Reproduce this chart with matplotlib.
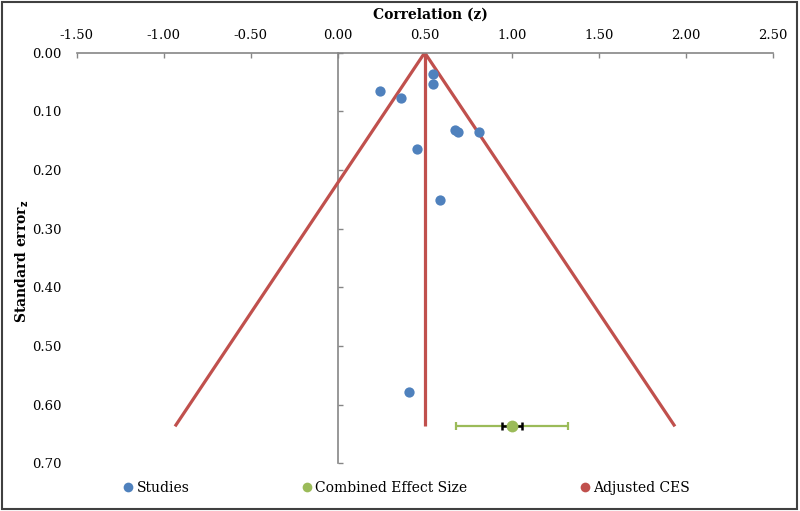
import matplotlib
matplotlib.use("Agg")
import matplotlib.pyplot as plt
from matplotlib.lines import Line2D
from matplotlib.patches import Rectangle

plt.rcParams['font.family'] = ['DejaVu Serif']
plt.rcParams['axes.unicode_minus'] = False

# ---- data ----
study_z = [0.549, 0.549, 0.243, 0.364, 0.674, 0.693, 0.812, 0.458, 0.590, 0.412]
study_se = [0.037, 0.054, 0.065, 0.078, 0.132, 0.135, 0.136, 0.165, 0.251, 0.579]

adjusted_ces = 0.50
funnel_se_max = 0.637
funnel_left = -0.935
funnel_right = 1.938

ces_z = 1.00
ces_se = 0.636
ces_ci_low, ces_ci_high = 0.68, 1.325
ces_inner_low, ces_inner_high = 0.943, 1.061

x_ticks = [-1.5, -1.0, -0.5, 0.0, 0.5, 1.0, 1.5, 2.0, 2.5]
y_ticks = [0.0, 0.1, 0.2, 0.3, 0.4, 0.5, 0.6, 0.7]

blue = '#4F81BD'
green = '#9BBB59'
red = '#C0504D'
axis_gray = '#868686'

fig = plt.figure(figsize=(8.0, 5.11), dpi=100)
ax = fig.add_axes([0.0959, 0.0933, 0.87, 0.8036])

# funnel
ax.plot([funnel_left, adjusted_ces, funnel_right], [funnel_se_max, 0, funnel_se_max],
        color=red, lw=2.3, solid_capstyle='butt', zorder=2)
ax.plot([adjusted_ces, adjusted_ces], [0, funnel_se_max], color=red, lw=2.3,
        solid_capstyle='butt', zorder=2)

# studies
ax.plot(study_z, study_se, 'o', color=blue, ms=7.4, mec='none', zorder=3)

# combined effect size
ax.errorbar([ces_z], [ces_se], xerr=[[ces_z - ces_ci_low], [ces_ci_high - ces_z]],
            fmt='none', ecolor=green, elinewidth=1.6, capsize=3, capthick=1.6, zorder=3)
ax.errorbar([ces_z], [ces_se], xerr=[[ces_z - ces_inner_low], [ces_inner_high - ces_z]],
            fmt='none', ecolor='black', elinewidth=1.8, capsize=3, capthick=1.8, zorder=4)
ax.plot([ces_z], [ces_se], 'o', color=green, ms=8.5, mec='none', zorder=5)

ax.set_xlim(-1.5, 2.5)
ax.set_ylim(0.7, 0.0)

# top x-axis
ax.xaxis.tick_top()
ax.set_xticks(x_ticks)
ax.set_xticklabels([f"{v:.2f}" for v in x_ticks])
ax.tick_params(axis='x', direction='in', length=3.5, width=1, color=axis_gray,
               pad=8, labelsize=9.5)

# y labels at left edge, no tick marks
ax.set_yticks(y_ticks)
ax.set_yticklabels([f"{v:.2f}" for v in y_ticks])
ax.tick_params(axis='y', length=0, pad=11, labelsize=9.5)

for s in ['left', 'right', 'bottom']:
    ax.spines[s].set_visible(False)
ax.spines['top'].set_color(axis_gray)
ax.spines['top'].set_linewidth(1.2)

# inner vertical axis at x = 0
sec = ax.secondary_yaxis(1.5 / 4.0)
sec.set_yticks(y_ticks)
sec.set_yticklabels([])
sec.tick_params(direction='in', length=3.5, width=1, color=axis_gray)
sec.spines['left'].set_color(axis_gray)
sec.spines['left'].set_linewidth(1.2)

fig.text(430 / 800, 1 - 15 / 511, 'Correlation (z)', ha='center', va='center',
         fontsize=10, fontweight='bold')
fig.text(22 / 800, 1 - 261 / 511, r'Standard error$_\mathbf{z}$', ha='center', va='center',
         rotation=90, fontsize=10, fontweight='bold')

handles = [Line2D([], [], ls='', marker='o', color=blue, ms=7, mec='none'),
           Line2D([], [], ls='', marker='o', color=green, ms=7, mec='none'),
           Line2D([], [], ls='', marker='o', color=red, ms=7, mec='none')]
labels = ['Studies', 'Combined Effect Size', 'Adjusted CES']
fig.legend(handles, labels, loc='center', bbox_to_anchor=(407 / 800, 1 - 488 / 511), ncol=3,
           frameon=False, fontsize=10, handlelength=0.6, handletextpad=0.3,
           columnspacing=8.15, borderpad=0)

fig.add_artist(Rectangle((0.003, 0.004), 0.993, 0.992, transform=fig.transFigure,
                         fill=False, ec='#404040', lw=1.5))

fig.savefig('out.png', dpi=100)
